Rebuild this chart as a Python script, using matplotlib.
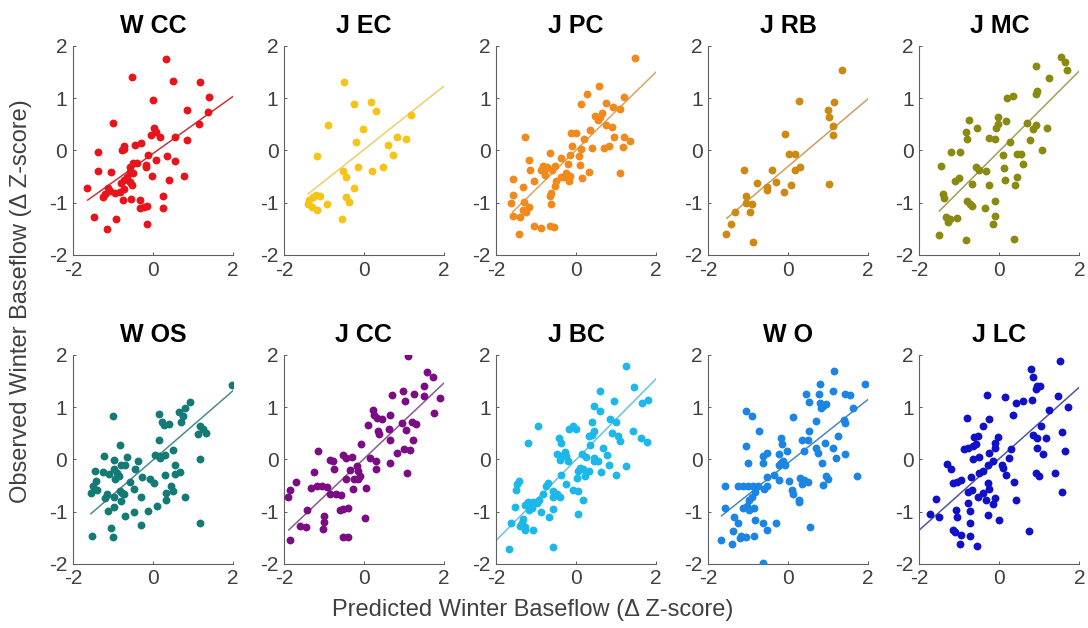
import numpy as np
import matplotlib
matplotlib.use("Agg")
import matplotlib.pyplot as plt

plt.rcParams['font.family'] = ['Liberation Sans', 'DejaVu Sans']
plt.rcParams['axes.unicode_minus'] = False

# ---- data (predicted x, observed y) ----
wcc_x = [0.33, -0.51, 0.51, 1.17, 1.41, 0.0, 0.85, 1.37, -1.0, 1.16, 0.02, 0.07, -0.04, 0.17, 0.55, 0.86,
         -0.29, -0.45, -0.73, -0.71, -0.77, -1.37, -0.13, 0.35, 0.08, 0.56, -0.40, -0.50, -0.16, -0.56, -0.16,
         -1.36, -1.04, -0.56, -0.50, -0.02, 0.78, -0.65, -0.73, 0.40, -0.58, -0.80, -0.52, -1.64, -1.13, -0.71,
         -1.07, -0.82, -0.94, -1.19, -1.25, 0.25, -0.75, -0.54, -0.31, -0.31, -0.21, -0.15, 0.25, -1.47, -0.91,
         -0.15, -1.15]
wcc_y = [1.75, 1.40, 1.33, 1.31, 1.03, 0.97, 0.77, 0.74, 0.53, 0.51, 0.43, 0.36, 0.30, 0.25, 0.25, 0.20,
         0.14, 0.11, 0.08, 0.02, 0.0, -0.03, -0.08, -0.10, -0.18, -0.21, -0.25, -0.25, -0.27, -0.32, -0.32,
         -0.40, -0.41, -0.41, -0.43, -0.49, -0.48, -0.51, -0.56, -0.56, -0.60, -0.63, -0.67, -0.71, -0.71, -0.73,
         -0.77, -0.79, -0.81, -0.84, -0.89, -0.88, -0.95, -0.93, -0.95, -1.11, -1.08, -1.06, -1.10, -1.27, -1.31,
         -1.41, -1.51]

jec_x = [-0.51, 0.17, -0.26, 0.31, 1.18, -0.89, -0.03, 0.82, 1.06, -0.20, 0.59, -1.18, 0.73, -0.16, 0.48,
         0.20, -0.53, -0.46, -0.25, -1.21, -1.10, -1.28, -0.46, -0.38, -1.40, -0.93, -1.31, -1.18, -0.56, -1.37]
jec_y = [1.31, 0.93, 0.88, 0.75, 0.67, 0.48, 0.41, 0.25, 0.21, 0.16, 0.11, -0.11, -0.09, -0.32, -0.32,
         -0.39, -0.40, -0.50, -0.71, -0.85, -0.87, -0.89, -0.90, -0.98, -1.02, -1.02, -1.09, -1.14, -1.31, -0.95]

jpc_x = [1.47, 0.58, 0.28, 1.20, 0.13, 0.74, 0.93, 1.10, 0.64, 0.48, 0.60, 0.54, 0.74, 0.91, 0.36, -0.12,
         0.01, -1.27, 0.94, 1.19, 0.21, 1.17, 1.35, 0.69, 0.83, -0.10, 0.13, 0.39, -0.65, -0.39, -0.14, 0.07,
         -1.19, -0.21, 0.09, -0.53, -0.84, -0.72, -1.15, -0.88, -0.80, -0.60, -0.78, 0.33, 1.10, -0.24, -0.16,
         0.15, -1.59, -0.31, -0.39, -0.51, -0.18, -1.05, -0.54, -1.34, -0.64, -1.57, -0.65, -1.63, -1.30, -0.64,
         -1.17, -1.34, -1.26, -1.59, -1.40, -1.05, -0.88, -0.65, -0.55, -1.44]
jpc_y = [1.77, 1.23, 1.07, 1.03, 0.88, 0.91, 0.83, 0.80, 0.72, 0.66, 0.63, 0.59, 0.48, 0.45, 0.39, 0.34,
         0.34, 0.26, 0.25, 0.26, 0.21, 0.07, 0.18, 0.05, 0.09, 0.08, 0.02, 0.05, -0.05, -0.14, -0.08, -0.11,
         -0.19, -0.26, -0.27, -0.29, -0.29, -0.32, -0.37, -0.37, -0.40, -0.38, -0.47, -0.42, -0.43, -0.43, -0.48,
         -0.53, -0.54, -0.50, -0.51, -0.59, -0.59, -0.59, -0.69, -0.70, -0.82, -0.86, -0.88, -1.01, -0.98, -1.02,
         -1.09, -1.14, -1.17, -1.25, -1.28, -1.44, -1.48, -1.44, -1.47, -1.59]

jrb_x = [1.35, 0.28, 1.15, 1.0, 1.01, 1.12, -0.07, 1.12, 0.03, 0.18, -1.10, -0.41, 0.30, 0.18, -0.79, -0.30,
         0.08, 1.01, -0.54, -0.52, -0.10, -1.05, -1.05, -0.91, -0.95, -1.33, -1.44, -1.56, -0.89]
jrb_y = [1.54, 0.95, 0.93, 0.77, 0.64, 0.46, 0.32, 0.29, -0.07, -0.07, -0.37, -0.37, -0.32, -0.38, -0.63, -0.61,
         -0.66, -0.64, -0.70, -0.75, -0.80, -0.88, -1.00, -1.02, -1.17, -1.17, -1.41, -1.59, -1.76]

jmc_x = [1.55, 1.64, 1.69, 0.92, 1.24, 0.95, 0.91, 0.19, 0.33, -0.76, -0.04, 0.17, 0.68, -0.56, -0.04, -0.08,
         0.91, 0.83, 1.20, -0.84, -0.81, -0.27, -0.10, 0.77, 0.27, -1.22, -0.98, 1.06, 0.08, 0.44, 0.54, 0.60,
         -1.47, -0.58, -0.50, -0.33, 0.11, 0.45, -1.01, -1.12, 0.15, -0.68, -0.27, 0.39, -1.40, -1.39, -0.81,
         -0.74, -0.69, -0.11, -0.37, -1.34, -1.24, -1.05, -1.28, -0.12, -0.15, -1.50, -0.84, 0.37]
jmc_y = [1.79, 1.69, 1.54, 1.61, 1.39, 1.14, 1.07, 1.01, 1.04, 0.58, 0.63, 0.56, 0.53, 0.42, 0.50, 0.43,
         0.48, 0.40, 0.42, 0.35, 0.21, 0.24, 0.21, 0.19, 0.16, -0.03, -0.03, 0.0, -0.08, -0.06, -0.06, -0.26,
         -0.30, -0.32, -0.38, -0.40, -0.34, -0.51, -0.53, -0.59, -0.56, -0.64, -0.66, -0.66, -0.84, -0.91, -0.96,
         -1.02, -1.06, -0.96, -1.11, -1.27, -1.32, -1.30, -1.36, -1.25, -1.41, -1.62, -1.71, -1.70]

wos_x = [1.98, -1.0, 0.92, 0.81, 0.16, 0.66, 0.75, 0.23, 0.40, 0.27, 0.71, 1.19, 1.26, 1.33, 1.12, 0.16,
         -0.83, 0.51, 0.05, 0.15, 0.31, 0.19, -1.21, -0.65, -0.96, -0.37, 1.19, -0.69, -0.80, -1.44, -1.25,
         -0.96, -0.90, -0.44, 0.55, 0.67, 0.56, 0.30, -1.09, -0.85, -0.94, -0.27, -0.06, 0.04, -0.58, -1.42,
         -1.50, 0.45, -0.46, 0.50, -1.40, -1.55, -1.15, -0.83, -0.76, -0.71, 0.34, -1.19, -0.96, -0.29, -0.80,
         0.33, 0.81, -0.96, -1.13, -0.48, -0.12, 0.10, -0.69, -0.30, 1.19, -1.52, -1.05, -1.0]
wos_y = [1.43, 0.83, 1.09, 0.99, 0.87, 0.91, 0.83, 0.71, 0.67, 0.65, 0.71, 0.64, 0.58, 0.50, 0.48, 0.37,
         0.27, 0.17, 0.08, 0.06, 0.08, 0.03, 0.06, 0.05, -0.01, -0.03, 0.0, -0.10, -0.11, -0.22, -0.24,
         -0.19, -0.26, -0.19, -0.10, -0.24, -0.28, -0.29, -0.28, -0.31, -0.38, -0.34, -0.38, -0.45, -0.44, -0.42,
         -0.50, -0.51, -0.56, -0.60, -0.58, -0.64, -0.67, -0.61, -0.64, -0.67, -0.64, -0.74, -0.72, -0.72, -0.79,
         -0.77, -0.71, -0.91, -0.99, -1.01, -0.99, -0.90, -1.09, -1.25, -1.21, -1.46, -1.31, -1.49]

jcc_x = [1.10, 1.57, 1.73, 1.50, 0.98, 0.69, 1.25, 1.49, 1.90, 1.02, 0.22, 0.26, 0.32, 0.45, 0.66, 1.75,
         0.09, 0.35, 0.38, 0.62, 0.95, 1.20, 1.29, 1.06, 0.64, 1.23, -0.08, -1.15, 0.83, 1.01, 1.15, -0.52,
         -0.46, -0.31, -0.85, -0.77, 0.15, 0.30, 0.64, -0.74, -0.18, -0.35, -0.14, 0.31, -1.25, -0.11, 1.08,
         -0.26, -0.14, -0.46, -1.71, -1.17, -1.04, -0.92, -1.33, 0.05, -0.28, -1.84, -0.85, -0.70, -0.58, -1.89,
         -1.42, -0.60, -0.52, -0.39, -0.99, 0.03, -1.61, -1.44, -0.99, -1.02, -0.52, -0.41, -1.86]
jcc_y = [1.97, 1.67, 1.57, 1.41, 1.31, 1.23, 1.25, 1.21, 1.17, 1.12, 0.95, 0.85, 0.80, 0.78, 0.85, 0.88,
         0.66, 0.54, 0.49, 0.59, 0.69, 0.71, 0.67, 0.56, 0.38, 0.37, 0.30, 0.16, 0.13, 0.19, 0.18, 0.08,
         0.03, 0.04, -0.02, -0.03, 0.02, -0.03, -0.06, -0.19, -0.13, -0.21, -0.22, -0.18, -0.24, -0.31, -0.27,
         -0.38, -0.37, -0.38, -0.44, -0.51, -0.51, -0.53, -0.54, -0.54, -0.56, -0.58, -0.66, -0.67, -0.69, -0.72,
         -0.96, -0.97, -0.95, -0.93, -1.09, -1.12, -1.27, -1.30, -1.20, -1.33, -1.49, -1.49, -1.54]

jbc_x = [1.24, 0.61, 1.44, 0.44, 0.96, 0.61, 1.79, 1.64, -0.96, -0.07, -0.17, 0.0, 0.41, 0.86, 1.0, 0.45,
         0.39, 0.32, 1.42, 0.90, 1.06, 1.11, 1.63, 1.77, -1.21, -0.43, -0.39, 0.67, 0.34, -0.28, -0.47, -0.37,
         -0.26, 0.16, 0.78, 0.26, 0.44, 0.55, 0.46, -0.41, -0.20, 0.82, 1.24, 0.09, 0.17, 0.32, 0.63, 0.05,
         0.23, 0.99, 0.02, -0.37, -1.42, -1.47, -0.70, -0.76, -0.26, -1.50, -0.07, 0.05, -0.59, -0.49, -0.41,
         -0.82, -0.93, 0.17, -0.57, -1.07, -1.20, -0.99, -1.28, -1.53, -1.11, -1.17, -0.57, -0.88, 0.05, -0.68,
         -1.34, -1.63, -1.36, -1.29, -1.07, -1.28, -1.40, -1.69, -0.59]
jbc_y = [1.78, 1.31, 1.38, 1.03, 1.12, 0.92, 1.13, 1.07, 0.63, 0.64, 0.58, 0.58, 0.71, 0.77, 0.71, 0.54,
         0.47, 0.45, 0.54, 0.51, 0.45, 0.35, 0.40, 0.33, 0.32, 0.40, 0.31, 0.21, 0.27, 0.15, 0.10, 0.06,
         0.06, 0.10, 0.08, 0.05, 0.03, -0.03, -0.03, -0.01, -0.04, -0.10, -0.12, -0.17, -0.19, -0.22, -0.24,
         -0.22, -0.32, -0.30, -0.35, -0.29, -0.42, -0.47, -0.46, -0.50, -0.47, -0.59, -0.58, -0.61, -0.61, -0.67,
         -0.72, -0.67, -0.77, -0.78, -0.71, -0.81, -0.82, -0.83, -0.88, -0.92, -0.93, -0.96, -0.95, -1.01, -1.04,
         -1.11, -1.14, -1.21, -1.22, -1.29, -1.35, -1.35, -1.28, -1.71, -1.68]

wo_x = [1.14, 1.92, 0.79, 1.11, 0.44, 0.78, 1.43, 1.54, 0.51, 0.80, 0.86, 0.95, 0.83, 1.61, -1.05, -0.91,
        0.13, 0.69, 1.39, 1.41, -0.72, 0.51, 1.24, -0.18, 0.34, 0.49, -0.16, 0.91, -1.05, 0.69, 1.13, -0.03,
        0.40, 0.74, -0.52, -0.22, 1.41, 1.20, -0.64, -1.01, -0.62, 0.85, -0.18, -0.12, -0.24, -0.08, -0.35,
        -0.52, 0.95, 0.99, 1.72, -0.22, 0.03, 0.30, 0.40, 0.49, 0.34, -1.58, -1.26, -1.14, -1.01, -0.87, -0.76,
        -0.52, -0.60, 0.87, 0.09, 0.11, -0.83, -0.91, -0.97, 0.26, 0.28, -1.58, -1.12, -1.02, -0.85, -0.97,
        -1.36, -1.26, -0.83, -0.62, -0.31, 0.54, -0.52, -1.37, -1.19, -1.06, -1.21, -0.85, -1.69, -1.41, -0.64]
wo_y = [1.70, 1.44, 1.44, 1.30, 1.26, 1.26, 1.26, 1.23, 1.09, 1.07, 1.03, 1.06, 0.98, 0.99, 0.92, 0.83,
        0.82, 0.74, 0.75, 0.69, 0.54, 0.54, 0.45, 0.40, 0.38, 0.38, 0.30, 0.32, 0.26, 0.22, 0.21, 0.16,
        0.16, 0.13, 0.13, 0.10, 0.11, 0.03, 0.06, -0.06, -0.06, -0.06, -0.06, -0.04, -0.11, -0.10, -0.29,
        -0.34, -0.32, -0.37, -0.32, -0.40, -0.42, -0.35, -0.40, -0.44, -0.47, -0.50, -0.50, -0.50, -0.50, -0.50,
        -0.50, -0.51, -0.56, -0.49, -0.58, -0.66, -0.63, -0.71, -0.78, -0.77, -0.81, -0.93, -0.93, -0.90, -0.93,
        -0.97, -1.11, -1.22, -1.15, -1.22, -1.22, -1.29, -1.36, -1.37, -1.46, -1.49, -1.51, -1.46, -1.55, -1.62,
        -1.99]

jlc_x = [1.51, 0.79, 0.83, 1.01, 0.95, 0.91, -0.31, 0.15, 1.46, 0.41, 0.60, 0.81, 1.71, 1.24, -0.80, -0.26,
         0.35, -0.41, 1.03, 1.57, -0.64, -0.54, -0.04, 0.85, 0.95, 1.16, -0.12, -0.58, -0.66, -0.79, -0.89,
         -0.10, 0.93, 1.63, -0.26, 1.09, 0.29, -0.50, -0.66, 0.25, -0.17, -0.29, -1.31, -1.21, 0.07, 0.10,
         -0.41, -0.50, 0.17, 0.91, 0.99, 1.39, -0.70, -0.95, -1.07, -1.16, -0.29, 0.36, -0.25, -0.79, -0.68,
         1.57, -0.41, -0.33, -0.10, -0.54, 0.41, -1.59, -0.17, -0.79, -1.09, -0.74, -1.74, -1.50, -1.05, -0.29,
         -0.02, -0.74, -1.16, -1.12, -0.95, -0.73, 0.73, -0.99, -0.56]
jlc_y = [1.88, 1.72, 1.58, 1.41, 1.40, 1.35, 1.24, 1.19, 1.22, 1.08, 1.11, 1.14, 1.01, 0.95, 0.80, 0.77,
         0.85, 0.64, 0.64, 0.53, 0.43, 0.45, 0.43, 0.46, 0.40, 0.40, 0.32, 0.30, 0.26, 0.22, 0.19,
         0.21, 0.21, 0.16, 0.13, 0.10, 0.19, 0.04, 0.0, 0.03, -0.04, -0.10, -0.08, -0.19, -0.10, -0.16,
         -0.22, -0.26, -0.30, -0.26, -0.32, -0.27, -0.33, -0.40, -0.44, -0.46, -0.46, -0.44, -0.56, -0.63, -0.59,
         -0.62, -0.65, -0.78, -0.74, -0.72, -0.77, -0.76, -0.85, -0.83, -0.96, -0.99, -1.04, -1.10, -1.11, -1.07,
         -1.15, -1.22, -1.36, -1.39, -1.44, -1.46, -1.37, -1.62, -1.65]

# fitted regression lines (end points)
fit_x = [[-1.63, 2.0], [-1.39, 2.0], [-1.59, 2.0], [-1.54, 2.0], [-1.50, 2.0],
         [-1.55, 2.0], [-1.88, 2.0], [-2.0, 2.0], [-1.67, 2.0], [-2.0, 2.0]]
fit_y = [[-0.95, 1.03], [-0.83, 1.23], [-1.18, 1.50], [-1.30, 0.99], [-1.16, 1.52],
         [-1.04, 1.31], [-1.35, 1.46], [-1.55, 1.54], [-1.08, 1.15], [-1.35, 1.38]]

titles = ['W CC', 'J EC', 'J PC', 'J RB', 'J MC', 'W OS', 'J CC', 'J BC', 'W O', 'J LC']
xs = [wcc_x, jec_x, jpc_x, jrb_x, jmc_x, wos_x, jcc_x, jbc_x, wo_x, jlc_x]
ys = [wcc_y, jec_y, jpc_y, jrb_y, jmc_y, wos_y, jcc_y, jbc_y, wo_y, jlc_y]
dot_colors = ['#e8141c', '#f5c416', '#f08a1c', '#cc8a14', '#8a8a10',
              '#137a76', '#7c0c84', '#1cb8ea', '#1c84e2', '#1010c8']
line_colors = ['#c8343a', '#e8cf6a', '#d9a462', '#c9a05e', '#a0a05a',
               '#4a8c8a', '#8a5a8c', '#6cc2da', '#4a88c0', '#5252a2']

fig = plt.figure(figsize=(10.88, 6.28), dpi=100)

lefts = [0.067, 0.261, 0.456, 0.651, 0.845]
bottoms = [0.594, 0.102]
w, h = 0.147, 0.333
gray = '#404040'

for i in range(10):
    ax = fig.add_axes([lefts[i % 5], bottoms[i // 5], w, h])
    ax.scatter(xs[i], ys[i], s=32, color=dot_colors[i], linewidths=0, zorder=3)
    ax.plot(fit_x[i], fit_y[i], color=line_colors[i], lw=1.1, zorder=2)
    ax.set_xlim(-2, 2)
    ax.set_ylim(-2, 2)
    ax.set_xticks([-2, 0, 2])
    ax.set_yticks([-2, -1, 0, 1, 2])
    ax.tick_params(direction='in', length=2, width=0.6, colors=gray, labelsize=15)
    ax.tick_params(axis='x', pad=4)
    ax.tick_params(axis='y', pad=4)
    for s in ['top', 'right']:
        ax.spines[s].set_visible(False)
    for s in ['left', 'bottom']:
        ax.spines[s].set_color('#606060')
        ax.spines[s].set_linewidth(0.8)
    ax.set_title(titles[i], fontsize=18, fontweight='bold', pad=9)
    ax.set_facecolor('none')

fig.text(0.019, 0.52, 'Observed Winter Baseflow (Δ Z-score)', rotation=90,
         ha='center', va='center', fontsize=17, color=gray)
fig.text(0.49, 0.028, 'Predicted Winter Baseflow (Δ Z-score)',
         ha='center', va='center', fontsize=17, color=gray)

fig.savefig('out.png', dpi=100)
